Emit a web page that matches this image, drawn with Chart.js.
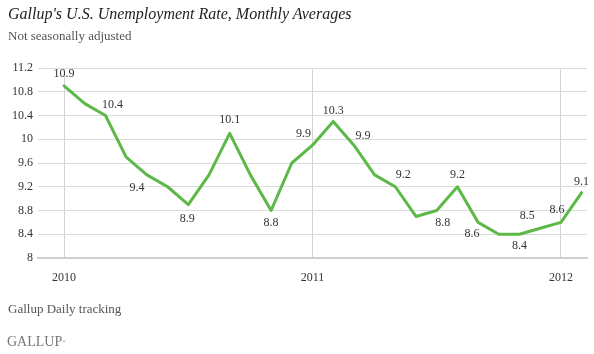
<!DOCTYPE html>
<html><head><meta charset="utf-8">
<script src="https://cdn.jsdelivr.net/npm/chart.js@4"></script>
<style>
html,body{margin:0;padding:0;background:#fff;}
#wrap{position:relative;width:594px;height:354px;overflow:hidden;font-family:"Liberation Serif",serif;}
canvas{position:absolute;left:0;top:0;}
.t{position:absolute;white-space:nowrap;}
</style></head><body>
<div id="wrap">
<canvas id="c" width="594" height="354"></canvas>
<div class="t" style="left:8px;top:6px;font-size:16px;line-height:16px;font-style:italic;color:#222;">Gallup's U.S. Unemployment Rate, Monthly Averages</div>
<div class="t" style="left:8px;top:29px;font-size:13px;line-height:13px;color:#555;">Not seasonally adjusted</div>
<div class="t" style="left:8px;top:302px;font-size:13px;line-height:13px;color:#555;">Gallup Daily tracking</div>
<div class="t" style="left:7px;top:335px;font-size:14px;line-height:14px;color:#777;">GALLUP<sup style="font-size:5px;vertical-align:top;">&reg;</sup></div>
</div>
<script>
const months = ['Jan 2010','Feb 2010','Mar 2010','Apr 2010','May 2010','Jun 2010','Jul 2010','Aug 2010','Sep 2010','Oct 2010','Nov 2010','Dec 2010',
  'Jan 2011','Feb 2011','Mar 2011','Apr 2011','May 2011','Jun 2011','Jul 2011','Aug 2011','Sep 2011','Oct 2011','Nov 2011','Dec 2011',
  'Jan 2012','Feb 2012'];
const rates = [10.9,10.6,10.4,9.7,9.4,9.2,8.9,9.4,10.1,9.4,8.8,9.6,
  9.9,10.3,9.9,9.4,9.2,8.7,8.8,9.2,8.6,8.4,8.4,8.5,
  8.6,9.1];
const yearLabels = ['2010','2011','2012'];
const yearTickIdx = [0,12,24];
const yTicks = [8,8.4,8.8,9.2,9.6,10,10.4,10.8,11.2];
const labeledIdx = [0,2,4,6,8,10,12,13,14,16,18,19,20,22,23,24,25];

// label placement (pixel offsets from the point), styling only
const labelOffsets = {
  0:[0,-12],2:[7,-11],4:[-10,13],6:[-1,14],8:[0,-13],10:[0,12],
  12:[-9,-11],13:[0,-11],14:[9,-9],16:[8,-12],18:[6,12],19:[0,-12],
  20:[-6,11],22:[0,12],23:[-13,-12],24:[-4,-13],25:[0,-11]
};
const FONT = '"Liberation Serif", serif';

const labelPlugin = {
  id:'pointLabels',
  afterDatasetsDraw(chart){
    const ctx = chart.ctx;
    const meta = chart.getDatasetMeta(0);
    ctx.save();
    ctx.font = '12px ' + FONT;
    ctx.fillStyle = '#333';
    ctx.textAlign = 'center';
    ctx.textBaseline = 'middle';
    labeledIdx.forEach(i=>{
      const p = meta.data[i];
      const o = labelOffsets[i] || [0,-12];
      ctx.fillText(rates[i].toFixed(1), p.x + o[0], p.y + o[1]);
    });
    ctx.restore();
  }
};

new Chart(document.getElementById('c'), {
  type:'line',
  data:{
    labels: months,
    datasets:[{
      label:'Unemployment rate',
      data: rates.map((v,i)=>({x:i,y:v})),
      borderColor:'#5cb947',
      borderWidth:3,
      pointRadius:0,
      tension:0,
      borderJoinStyle:'round',
      borderCapStyle:'round',
      fill:false
    }]
  },
  options:{
    responsive:false,
    animation:false,
    layout:{padding:{left:0,right:7,top:68,bottom:66}},
    plugins:{legend:{display:false},tooltip:{enabled:false},title:{display:false}},
    scales:{
      x:{
        type:'linear', min:-1.26, max:25.26,
        afterBuildTicks:(s)=>{ s.ticks = yearTickIdx.map(v=>({value:v})); },
        afterFit:(s)=>{ s.height = 30; },
        ticks:{
          callback:(v)=>yearLabels[yearTickIdx.indexOf(v)],
          font:{family:FONT,size:12}, color:'#333', padding:13,
          maxRotation:0, autoSkip:false
        },
        grid:{color:'#d3d3d3', lineWidth:1, drawTicks:false},
        border:{color:'#cfcfcf', width:2}
      },
      y:{
        min:8, max:11.2,
        afterBuildTicks:(s)=>{ s.ticks = yTicks.map(v=>({value:v})); },
        afterFit:(s)=>{ s.width = 38; },
        ticks:{font:{family:FONT,size:12}, color:'#333', padding:5,
          callback:(v)=>String(Math.round(v*10)/10)},
        grid:{color:'#dadada', lineWidth:1, drawTicks:false},
        border:{display:false}
      }
    }
  },
  plugins:[labelPlugin]
});
</script>
</body></html>
